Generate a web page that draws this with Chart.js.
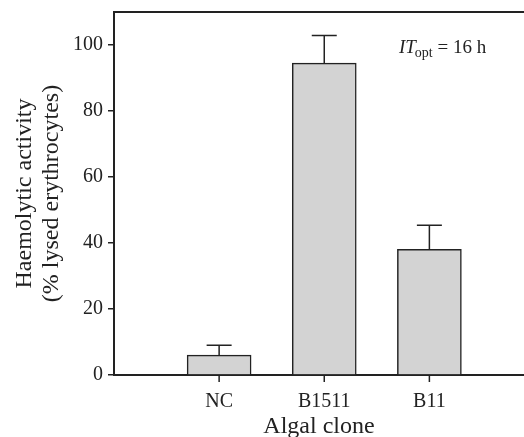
<!DOCTYPE html>
<html>
<head>
<meta charset="utf-8">
<script src="https://cdn.jsdelivr.net/npm/chart.js@4.4.1/dist/chart.umd.min.js"></script>
<style>
  html, body { margin: 0; padding: 0; background: #fff; }
  #wrap { width: 524px; height: 437px; }
</style>
</head>
<body>
<div id="wrap"><canvas id="myChart" width="524" height="437"></canvas></div>
<script>
// data
const clones = ["NC", "B1511", "B11"];
const positions = [1, 2, 3];
const activity = [6.0, 94.5, 38.1];
const errorTop = [9.0, 102.9, 45.4];
const yTicks = [0, 20, 40, 60, 80, 100];

const serif = "'Liberation Serif', 'DejaVu Serif', serif";
const ink = "#222";

// error bars, x tick marks, top frame line and the IT_opt note, drawn from the scales
const extras = {
    id: "extras",
    afterDatasetsDraw(chart) {
        const { ctx, chartArea, scales } = chart;
        const x = scales.x, y = scales.y;
        ctx.save();
        ctx.strokeStyle = ink;
        ctx.lineWidth = 1.5;
        for (let i = 0; i < activity.length; i++) {
            const px = x.getPixelForValue(positions[i]);
            const yb = y.getPixelForValue(activity[i]);
            const yt = y.getPixelForValue(errorTop[i]);
            ctx.beginPath();
            ctx.moveTo(px, yb);
            ctx.lineTo(px, yt);
            ctx.moveTo(px - 12.5, yt);
            ctx.lineTo(px + 12.5, yt);
            // tick mark under the axis
            ctx.moveTo(px, chartArea.bottom);
            ctx.lineTo(px, chartArea.bottom + 7);
            ctx.stroke();
        }
        ctx.lineWidth = 2;
        ctx.beginPath();
        ctx.moveTo(chartArea.left - 1, chartArea.top);
        ctx.lineTo(chartArea.right, chartArea.top);
        ctx.stroke();

        const tx = x.getPixelForValue(2.71);
        const ty = y.getPixelForValue(97.6);
        ctx.fillStyle = ink;
        ctx.textBaseline = "alphabetic";
        ctx.font = "italic 19px " + serif;
        ctx.fillText("IT", tx, ty);
        let w = ctx.measureText("IT").width;
        ctx.font = "14px " + serif;
        ctx.fillText("opt", tx + w - 1, ty + 4);
        w += ctx.measureText("opt").width - 1;
        ctx.font = "19px " + serif;
        ctx.fillText(" = 16 h", tx + w, ty);
        ctx.restore();
    }
};

const ctx = document.getElementById("myChart").getContext("2d");

const chart = new Chart(ctx, {
    type: "bar",
    data: {
        datasets: [{
            label: "Haemolytic activity",
            data: positions.map((p, i) => ({ x: p, y: activity[i] })),
            backgroundColor: "#d3d3d3",
            borderColor: ink,
            borderWidth: 1.5,
            barThickness: 64
        }]
    },
    options: {
        responsive: false,
        animation: false,
        layout: { padding: { top: 12, right: 0, left: 0, bottom: 0 } },
        plugins: {
            legend: { display: false },
            tooltip: { enabled: false }
        },
        scales: {
            x: {
                type: "linear",
                min: 0,
                max: 3.9,
                offset: false,
                afterBuildTicks: axis => { axis.ticks = positions.map(v => ({ value: v })); },
                afterFit: axis => { axis.height = 62; },
                grid: { display: false },
                border: { display: true, color: ink, width: 2 },
                ticks: {
                    color: ink,
                    font: { family: serif, size: 20 },
                    padding: 7,
                    maxRotation: 0,
                    callback: v => clones[positions.indexOf(v)] ?? ""
                },
                title: {
                    display: true,
                    text: "Algal clone",
                    color: ink,
                    font: { family: serif, size: 24, lineHeight: 0.85 },
                    padding: { top: 0, bottom: 0 }
                }
            },
            y: {
                min: 0,
                max: 110,
                afterBuildTicks: axis => { axis.ticks = yTicks.map(v => ({ value: v })); },
                afterFit: axis => { axis.width = 114; axis.paddingTop = 0; axis.paddingBottom = 0; },
                grid: { display: true, drawOnChartArea: false, drawTicks: true, tickLength: 6, color: ink, lineWidth: 1.5 },
                border: { display: true, color: ink, width: 2 },
                ticks: {
                    color: ink,
                    font: { family: serif, size: 20 },
                    padding: 5
                },
                title: {
                    display: true,
                    text: ["Haemolytic activity", "(% lysed erythrocytes)"],
                    color: ink,
                    font: { family: serif, size: 24, lineHeight: 1.12 },
                    padding: { top: 11, bottom: 0 }
                }
            }
        }
    },
    plugins: [extras]
});
</script>
</body>
</html>
